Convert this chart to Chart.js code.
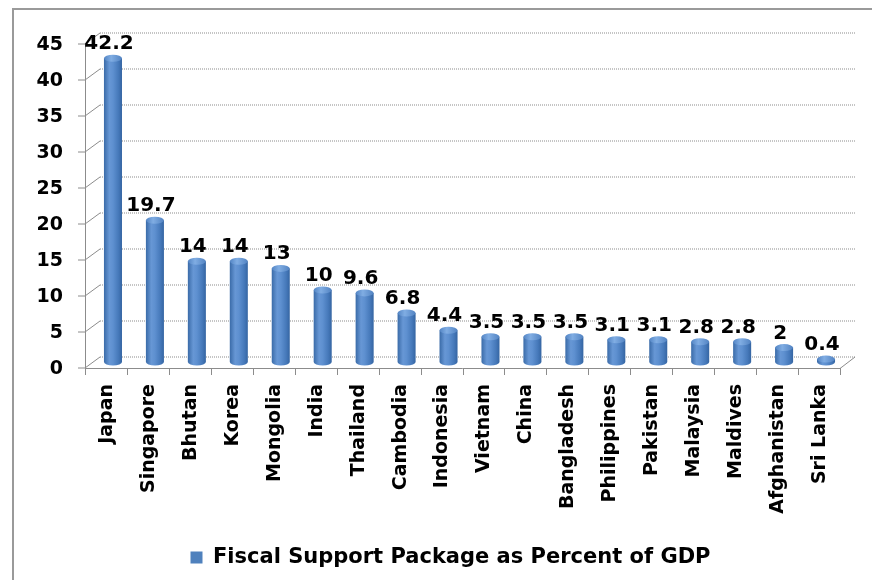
<!DOCTYPE html>
<html>
<head>
<meta charset="utf-8">
<script src="https://cdn.jsdelivr.net/npm/chart.js@4/dist/chart.umd.min.js"></script>
<style>
  html, body { margin: 0; padding: 0; background: #ffffff; }
  canvas { display: block; }
</style>
</head>
<body>
<canvas id="c" width="872" height="580"></canvas>
<script>
const categories = ["Japan", "Singapore", "Bhutan", "Korea", "Mongolia", "India", "Thailand", "Cambodia", "Indonesia", "Vietnam", "China", "Bangladesh", "Philippines", "Pakistan", "Malaysia", "Maldives", "Afghanistan", "Sri Lanka"];
const values = [42.2, 19.7, 14, 14, 13, 10, 9.6, 6.8, 4.4, 3.5, 3.5, 3.5, 3.1, 3.1, 2.8, 2.8, 2, 0.4];
const valueLabels = ["42.2", "19.7", "14", "14", "13", "10", "9.6", "6.8", "4.4", "3.5", "3.5", "3.5", "3.1", "3.1", "2.8", "2.8", "2", "0.4"];
const seriesName = "Fiscal Support Package as Percent of GDP";
const yMin = 0, yMax = 45, yStep = 5;

const FONT = "'DejaVu Sans', sans-serif";
const BACK = {dx: 8, dy: -5};
const FRONT = {dx: -7, dy: 6};

function bodyGradient(ctx, x, w) {
  const g = ctx.createLinearGradient(x - w / 2, 0, x + w / 2, 0);
  g.addColorStop(0, '#3a6ba8');
  g.addColorStop(0.3, '#6797d5');
  g.addColorStop(0.5, '#5e90d0');
  g.addColorStop(0.8, '#4679ba');
  g.addColorStop(1, '#3565a2');
  return g;
}

const frame3d = {
  id: 'frame3d',
  beforeDraw(chart) {
    const ctx = chart.ctx;
    ctx.save();
    ctx.fillStyle = '#ffffff';
    ctx.fillRect(0, 0, chart.width, chart.height);
    ctx.strokeStyle = '#9a9a9a';
    ctx.lineWidth = 2;
    ctx.strokeRect(13, 9, chart.width + 20, chart.height + 20);
    ctx.restore();
  },
  beforeDatasetsDraw(chart) {
    const ctx = chart.ctx;
    const ca = chart.chartArea;
    const ys = chart.scales.y;
    ctx.save();
    // back gridlines (dotted)
    ctx.strokeStyle = '#b2b2b2';
    ctx.lineWidth = 1.5;
    ctx.setLineDash([1, 1]);
    for (let v = yMin; v <= yMax; v += yStep) {
      const y = ys.getPixelForValue(v);
      ctx.beginPath();
      ctx.moveTo(ca.left + BACK.dx, y + BACK.dy);
      ctx.lineTo(ca.right + BACK.dx, y + BACK.dy);
      ctx.stroke();
    }
    ctx.setLineDash([]);
    // diagonals + front ticks + front axis
    ctx.strokeStyle = '#8c8c8c';
    ctx.lineWidth = 1;
    const fx = ca.left + FRONT.dx;
    for (let v = yMin; v <= yMax; v += yStep) {
      const y = ys.getPixelForValue(v);
      ctx.beginPath();
      ctx.moveTo(fx - 7, y + FRONT.dy);
      ctx.lineTo(fx, y + FRONT.dy);
      ctx.lineTo(ca.left + BACK.dx, y + BACK.dy);
      ctx.stroke();
    }
    ctx.beginPath();
    ctx.moveTo(fx + 0.5, ys.getPixelForValue(yMax) + FRONT.dy);
    ctx.lineTo(fx + 0.5, ys.getPixelForValue(yMin) + FRONT.dy);
    ctx.stroke();
    // floor front edge with category ticks
    const y0 = ys.getPixelForValue(0);
    ctx.beginPath();
    ctx.moveTo(ca.left + FRONT.dx, y0 + FRONT.dy + 0.5);
    ctx.lineTo(ca.right + FRONT.dx, y0 + FRONT.dy + 0.5);
    ctx.lineTo(ca.right + BACK.dx, y0 + BACK.dy);
    ctx.stroke();
    const catW = (ca.right - ca.left) / categories.length;
    for (let k = 0; k <= categories.length; k++) {
      const x = Math.round(ca.left + FRONT.dx + k * catW) + 0.5;
      ctx.beginPath();
      ctx.moveTo(x, y0 + FRONT.dy);
      ctx.lineTo(x, y0 + FRONT.dy + 7);
      ctx.stroke();
    }
    ctx.restore();
  },
  afterDatasetsDraw(chart) {
    const ctx = chart.ctx;
    const meta = chart.getDatasetMeta(0);
    ctx.save();
    meta.data.forEach((el, i) => {
      const w = el.width;
      const rx = w / 2;
      const ry = 3.5;
      // bottom half ellipse
      ctx.fillStyle = bodyGradient(ctx, el.x, w);
      ctx.beginPath();
      ctx.ellipse(el.x, el.base, rx, ry, 0, 0, Math.PI);
      ctx.fill();
      // top ellipse
      const g = ctx.createLinearGradient(el.x - rx, 0, el.x + rx, 0);
      g.addColorStop(0, '#5284c4');
      g.addColorStop(0.4, '#80ade3');
      g.addColorStop(1, '#5283c2');
      ctx.fillStyle = g;
      ctx.beginPath();
      ctx.ellipse(el.x, el.y, rx, ry, 0, 0, Math.PI * 2);
      ctx.fill();
      // value label
      ctx.fillStyle = '#000000';
      ctx.font = "bold 20px " + FONT;
      ctx.textAlign = 'center';
      ctx.textBaseline = 'alphabetic';
      ctx.fillText(valueLabels[i], el.x - 4, el.y - 9);
    });
    ctx.restore();
  }
};

new Chart(document.getElementById('c'), {
  type: 'bar',
  data: {
    labels: categories,
    datasets: [{
      label: seriesName,
      data: values,
      backgroundColor: (c) => {
        const chart = c.chart;
        if (!chart.chartArea || c.dataIndex === undefined) return '#4F81BD';
        const x = chart.scales.x.getPixelForValue(c.dataIndex);
        const catW = (chart.chartArea.right - chart.chartArea.left) / categories.length;
        return bodyGradient(chart.ctx, x, catW * 0.43);
      },
      borderWidth: 0,
      barPercentage: 0.43,
      categoryPercentage: 1.0
    }]
  },
  options: {
    responsive: false,
    animation: false,
    devicePixelRatio: 1,
    layout: { padding: { top: 38, left: 29, right: 0, bottom: 2 } },
    scales: {
      x: {
        grid: { display: false, drawTicks: false },
        border: { display: false },
        ticks: {
          font: { family: FONT, size: 19, weight: 'bold' },
          color: '#000000',
          minRotation: 90,
          maxRotation: 90,
          autoSkip: false,
          padding: 22,
          labelOffset: -6
        },
        afterFit: (s) => { s.height = 175; s.paddingLeft = 0; s.paddingRight = 25; }
      },
      y: {
        min: yMin,
        max: yMax,
        grid: { display: false, drawTicks: false },
        border: { display: false },
        ticks: {
          stepSize: yStep,
          font: { family: FONT, size: 19, weight: 'bold' },
          color: '#000000',
          padding: 29,
          labelOffset: 7
        },
        afterFit: (s) => { s.width = 63; s.paddingTop = 0; s.paddingBottom = 0; }
      }
    },
    plugins: {
      tooltip: { enabled: false },
      legend: {
        position: 'bottom',
        labels: {
          boxWidth: 12,
          boxHeight: 12,
          padding: 10,
          color: '#000000',
          font: { family: FONT, size: 21, weight: 'bold' },
          generateLabels: () => [{
            text: seriesName,
            fillStyle: '#4F81BD',
            strokeStyle: '#4F81BD',
            lineWidth: 0,
            hidden: false,
            datasetIndex: 0
          }]
        }
      }
    }
  },
  plugins: [frame3d]
});
</script>
</body>
</html>
